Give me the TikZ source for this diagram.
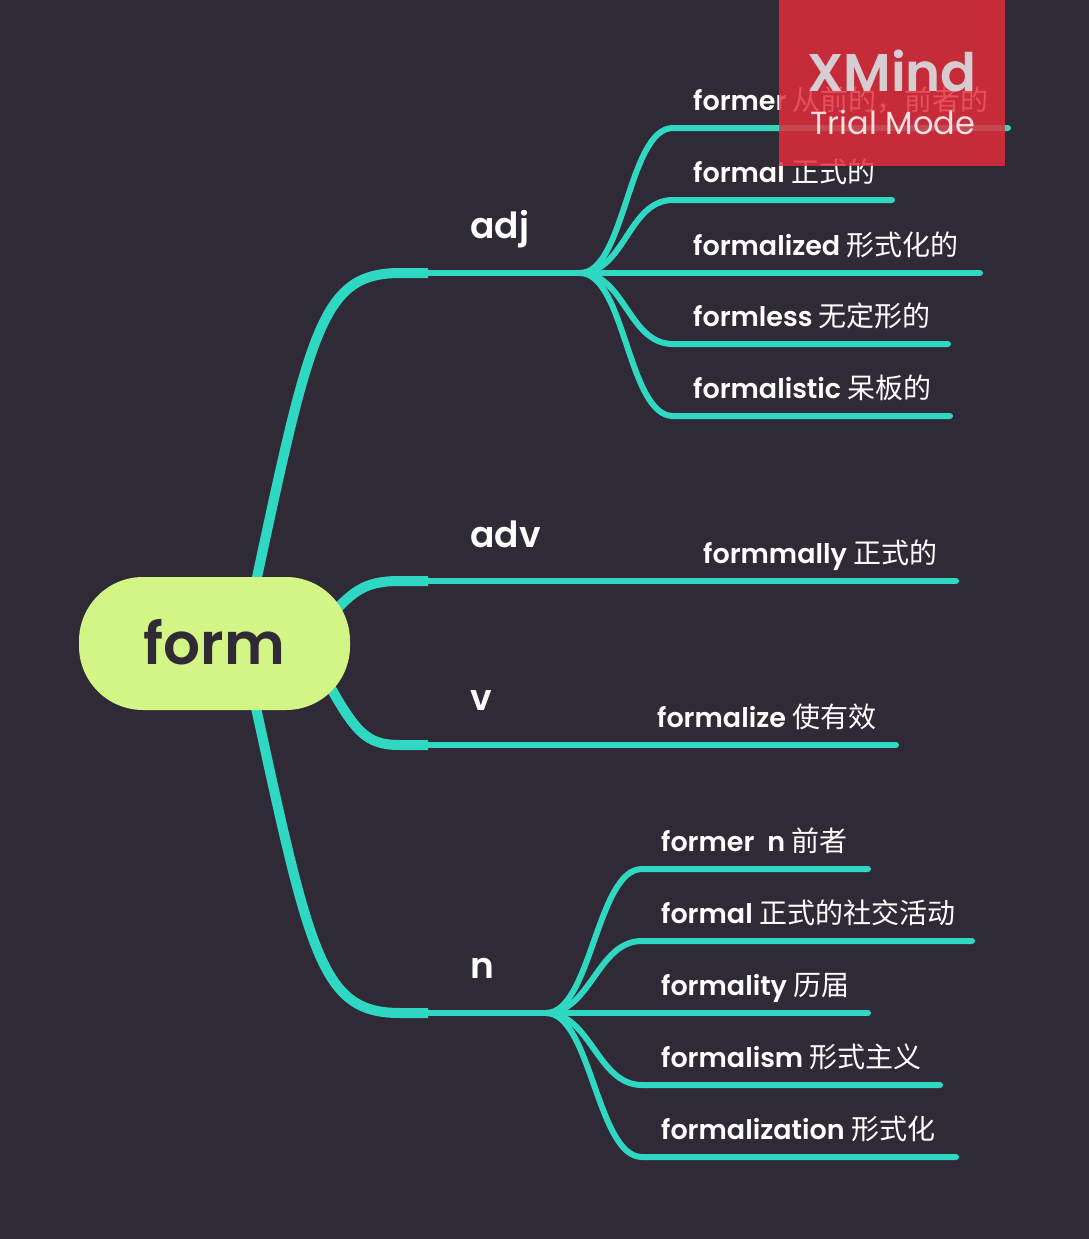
\documentclass[tikz,border=0pt]{standalone}
\usepackage{fontspec}
\setmainfont{Poppins}
\newfontfamily\lat{Poppins SemiBold}
\newfontfamily\latb{Poppins SemiBold}
\newfontfamily\latm{Poppins Medium}
\newfontfamily\cjk{Noto Sans CJK SC}
\newcommand\zh[1]{{\cjk\fontsize{28}{30}\selectfont #1}}
\definecolor{bgc}{HTML}{2F2A35}
\definecolor{tealc}{HTML}{2ED8C3}
\definecolor{limec}{HTML}{D2F585}
\definecolor{wmred}{HTML}{E42C3B}
\definecolor{wmgray}{HTML}{D6D6DA}
\begin{document}
\begin{tikzpicture}[x=1pt,y=-1pt,
  lbl/.style={font=\lat\fontsize{27}{30}\selectfont, text=white, anchor=base west, inner sep=0pt},
  brl/.style={font=\latb\fontsize{36}{40}\selectfont, text=white, anchor=base west, inner sep=0pt},
  mainbr/.style={draw=tealc, line width=10pt},
  midbr/.style={draw=tealc, line width=6pt},
  subbr/.style={draw=tealc, line width=6pt, line cap=round}]
\fill[bgc] (0,0) rectangle (1089,1239);
\useasboundingbox (0,0) rectangle (1089,1239);

% anchor coordinates
\coordinate (rA) at (250,610);
\coordinate (rB) at (322,625);
\coordinate (rC) at (322,672);
\coordinate (rD) at (250,680);
\coordinate (adjK) at (428,273);
\coordinate (advK) at (428,581);
\coordinate (vK) at (428,745);
\coordinate (nK) at (428,1013);
\coordinate (adjF) at (580,273);
\coordinate (nF) at (546,1013);

% main branches
\draw[mainbr] (rA) .. controls (310,330) and (320,273) .. (400,273) -- (adjK);
\draw[mainbr] (rB) .. controls (352,592) and (362,581) .. (400,581) -- (advK);
\draw[mainbr] (rC) .. controls (355,732) and (365,745) .. (400,745) -- (vK);
\draw[mainbr] (rD) .. controls (310,956) and (320,1013) .. (400,1013) -- (nK);
\draw[midbr] (adjK) -- (adjF);
\draw[midbr] (nK) -- (nF);

% adj children
\coordinate (a1s) at (673,128); \coordinate (a1e) at (1008,128);
\coordinate (a2s) at (673,200); \coordinate (a2e) at (892,200);
\coordinate (a3s) at (673,273); \coordinate (a3e) at (980,273);
\coordinate (a4s) at (673,344); \coordinate (a4e) at (948,344);
\coordinate (a5s) at (673,416); \coordinate (a5e) at (950,416);
\draw[subbr] (adjF) .. controls +(45,0) and +(-45,0) .. (a1s) -- (a1e);
\draw[subbr] (adjF) .. controls +(45,0) and +(-45,0) .. (a2s) -- (a2e);
\draw[subbr] (adjF) -- (a3s) -- (a3e);
\draw[subbr] (adjF) .. controls +(45,0) and +(-45,0) .. (a4s) -- (a4e);
\draw[subbr] (adjF) .. controls +(45,0) and +(-45,0) .. (a5s) -- (a5e);

% adv and v children
\coordinate (adve) at (956,581);
\coordinate (ve) at (896,745);
\draw[subbr] (advK) -- (adve);
\draw[subbr] (vK) -- (ve);

% n children
\coordinate (n1s) at (642,869); \coordinate (n1e) at (868,869);
\coordinate (n2s) at (642,941); \coordinate (n2e) at (972,941);
\coordinate (n3s) at (642,1013); \coordinate (n3e) at (868,1013);
\coordinate (n4s) at (642,1085); \coordinate (n4e) at (940,1085);
\coordinate (n5s) at (642,1157); \coordinate (n5e) at (956,1157);
\draw[subbr] (nF) .. controls +(45,0) and +(-45,0) .. (n1s) -- (n1e);
\draw[subbr] (nF) .. controls +(45,0) and +(-45,0) .. (n2s) -- (n2e);
\draw[subbr] (nF) -- (n3s) -- (n3e);
\draw[subbr] (nF) .. controls +(45,0) and +(-45,0) .. (n4s) -- (n4e);
\draw[subbr] (nF) .. controls +(45,0) and +(-45,0) .. (n5s) -- (n5e);

% root
\node[fill=limec, rounded corners=64pt, minimum width=271pt, minimum height=133pt, inner sep=0pt] (root) at (214.5,643.5) {};
\node[font=\latb\fontsize{58}{66}\selectfont, text=bgc, anchor=base, inner sep=0pt] (roottxt) at (214.5,664) {form};

% branch labels
\node[brl] (adj) at (470,238) {adj};
\node[brl] (adv) at (470,547) {adv};
\node[brl] (v) at (470,710) {v};
\node[brl] (n) at (470,978) {n};

% child labels
\node[lbl] (t1) at (693,110) {former \zh{从前的，前者的}};
\node[lbl] (t2) at (693,182) {formal \zh{正式的}};
\node[lbl] (t3) at (693,255) {formalized \zh{形式化的}};
\node[lbl] (t4) at (693,326) {formless \zh{无定形的}};
\node[lbl] (t5) at (693,398) {formalistic \zh{呆板的}};
\node[lbl] (t6) at (703,563) {formmally \zh{正式的}};
\node[lbl] (t7) at (657,727) {formalize \zh{使有效}};
\node[lbl] (t8) at (661,851) {former\ \ n \zh{前者}};
\node[lbl] (t9) at (661,923) {formal \zh{正式的社交活动}};
\node[lbl] (t10) at (661,995) {formality \zh{历届}};
\node[lbl] (t11) at (661,1067) {formalism \zh{形式主义}};
\node[lbl] (t12) at (661,1139) {formalization \zh{形式化}};

% watermark
\fill[wmred, opacity=0.83] (779,0) rectangle (1005,166);
\node[font=\latb\fontsize{53}{60}\selectfont, text=wmgray, anchor=base, inner sep=0pt, opacity=0.95] (wm1) at (892,92) {XMind};
\node[font=\fontsize{32}{38}\selectfont, text=white, anchor=base, inner sep=0pt, opacity=0.85] (wm2) at (893,134) {Trial Mode};
\end{tikzpicture}
\end{document}
